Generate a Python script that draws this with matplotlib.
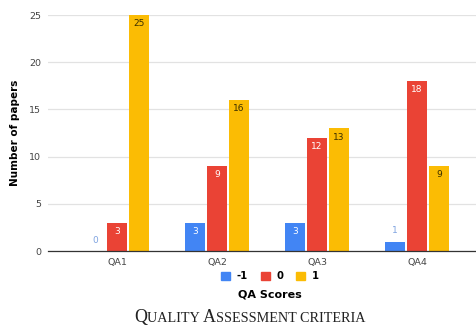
import matplotlib.pyplot as plt
import numpy as np

# QA score counts per question
questions = ["QA1", "QA2", "QA3", "QA4"]
score_neg = [0, 3, 3, 1]     # score -1
score_zero = [3, 9, 12, 18]  # score 0
score_one = [25, 16, 13, 9]  # score 1
scores = ["-1", "0", "1"]
colors = ["#4285F4", "#EA4335", "#FBBC04"]

fig = plt.figure(figsize=(4.77, 3.27), dpi=100)
ax = fig.add_axes([0.101, 0.232, 0.92, 0.722])

x = np.arange(len(questions))
w = 0.2
offsets = [-0.22, 0.0, 0.22]
series = [score_neg, score_zero, score_one]
label_colors = ["white", "white", "#3b2f00"]

for vals, off, col, lc in zip(series, offsets, colors, label_colors):
    bars = ax.bar(x + off, vals, w, color=col, zorder=3)
    for b, v in zip(bars, vals):
        cx = b.get_x() + b.get_width() / 2
        if v >= 2:
            ax.text(cx, v - 0.45, str(v), ha="center", va="top",
                    fontsize=6.5, color=lc, zorder=4)
        else:
            # short bars get their value above the bar
            ax.text(cx, v + 0.7, str(v), ha="center", va="bottom",
                    fontsize=6.5, color="#7fa3e0", zorder=4)

ax.set_xlim(-0.69, 3.7)
ax.set_ylim(0, 25)
ax.set_yticks([0, 5, 10, 15, 20, 25])
ax.set_xticks(x)
ax.set_xticklabels(questions)
ax.tick_params(length=0, labelsize=6.8, labelcolor="#444444", pad=5)
ax.yaxis.grid(True, color="#e2e2e2", linewidth=0.9, zorder=0)
for s in ["top", "right", "left"]:
    ax.spines[s].set_visible(False)
ax.spines["bottom"].set_color("#333333")
ax.spines["bottom"].set_linewidth(0.9)
ax.spines["bottom"].set_zorder(5)

ax.set_ylabel("Number of papers", fontsize=7.5, fontweight="bold", labelpad=7)

# legend built from square markers
handles = [plt.Rectangle((0, 0), 1, 1, color=c) for c in colors]
fig.legend(handles, scores, loc="center", bbox_to_anchor=(0.566, 0.155),
           ncol=3, frameon=False, handlelength=0.9, handleheight=0.9,
           handletextpad=0.6, columnspacing=1.3,
           prop={"size": 7.3, "weight": "bold"})

fig.text(0.566, 0.1, "QA Scores", ha="center", va="center",
         fontsize=8, fontweight="bold")

# small-caps caption
parts = [("Q", 13), ("UALITY ", 10.2), ("A", 13), ("SSESSMENT CRITERIA", 10.2)]
fig.canvas.draw()
r = fig.canvas.get_renderer()
texts = []
for s, fs in parts:
    t = fig.text(0, 0.014, s, fontsize=fs, family="Liberation Serif",
                 color="#222222", ha="left", va="baseline")
    texts.append(t)
widths = [t.get_window_extent(r).width for t in texts]
start = 250 - sum(widths) / 2
for t, wd in zip(texts, widths):
    t.set_x(start / fig.bbox.width)
    start += wd

fig.savefig("out.png", dpi=100)
